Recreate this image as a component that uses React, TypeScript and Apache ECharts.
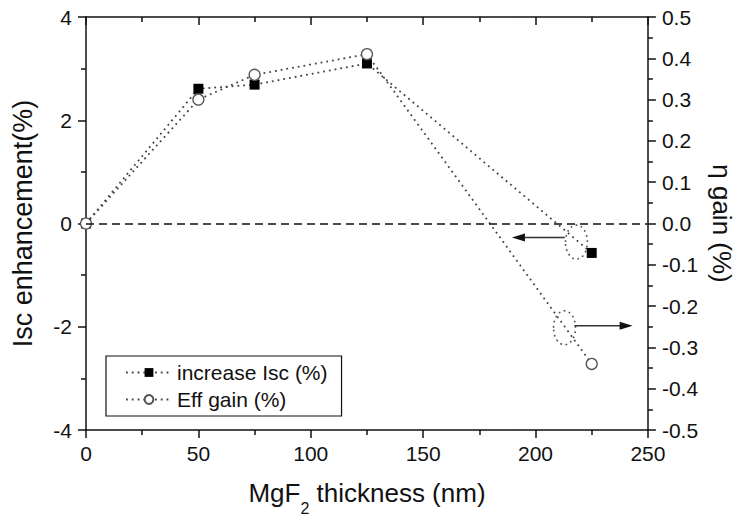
import { useEffect, useRef } from 'react';
import * as echarts from 'echarts';

// MgF2 layer thickness (nm) and measured gains
const thickness = [0, 50, 75, 125, 225];
const iscIncrease = [0, 2.61, 2.69, 3.1, -0.57]; // left axis, %
const effGain = [0, 0.3, 0.36, 0.41, -0.34]; // right axis, %

const xRange = { min: 0, max: 250, interval: 50 };
const leftRange = { min: -4, max: 4, interval: 2 };
const rightRange = { min: -0.5, max: 0.5, interval: 0.1 };

const seriesNames = ['increase Isc (%)', 'Eff gain (%)'];

// Callouts: dotted ellipse around a segment with an arrow pointing to its axis (left-axis units)
const callouts = [
  { center: [218.2, -0.36], from: [213, -0.27], to: [189.5, -0.27] },
  { center: [212.9, -2.02], from: [217.3, -1.98], to: [243.2, -1.98] },
];

const FONT = '"Liberation Sans", Arial, Helvetica, sans-serif';
const INK = '#111';
const DOT = '#555';

export default function App() {
  const ref = useRef<HTMLDivElement>(null);

  useEffect(() => {
    document.body.style.margin = '0';
    document.body.style.overflow = 'hidden';
    if (!ref.current) return;
    const chart = echarts.init(ref.current, undefined, { renderer: 'svg' });

    const axisLine = { show: true, onZero: false, lineStyle: { color: INK, width: 1.5 } };
    const tickLabel = { color: INK, fontSize: 21, fontFamily: FONT };
    const ticks = (inside: boolean) => ({
      axisTick: { show: true, inside, length: 8, lineStyle: { color: INK, width: 1.5 } },
      minorTick: { show: true, splitNumber: 2, length: 5, lineStyle: { color: INK, width: 1.5 } },
    });

    chart.setOption({
      animation: false,
      backgroundColor: '#fff',
      grid: { left: 86, right: 87.5, top: 17, bottom: 84.5 },
      legend: {
        orient: 'vertical',
        left: 106,
        top: 356,
        width: 230,
        padding: [6, 14, 6, 19],
        borderColor: INK,
        borderWidth: 1.2,
        itemWidth: 46,
        itemHeight: 11,
        itemGap: 6,
        textStyle: { color: INK, fontSize: 21, fontFamily: FONT, lineHeight: 20 },
        data: seriesNames,
      },
      xAxis: [
        {
          type: 'value',
          position: 'bottom',
          ...xRange,
          name: '{a|MgF}{s|2}{a| thickness (nm)}',
          nameLocation: 'middle',
          nameGap: 40,
          nameTextStyle: {
            rich: {
              a: { fontSize: 26, fontFamily: FONT, color: INK, lineHeight: 46 },
              s: { fontSize: 16, fontFamily: FONT, color: INK, lineHeight: 16, verticalAlign: 'bottom' },
            },
          },
          axisLine,
          ...ticks(false),
          axisLabel: { ...tickLabel, margin: 13 },
          splitLine: { show: false },
        },
        {
          type: 'value',
          position: 'top',
          ...xRange,
          axisLine,
          ...ticks(true),
          axisLabel: { show: false },
          splitLine: { show: false },
        },
      ],
      yAxis: [
        {
          type: 'value',
          position: 'left',
          ...leftRange,
          name: 'Isc enhancement(%)',
          nameLocation: 'middle',
          nameGap: 50,
          nameTextStyle: { fontSize: 27, fontFamily: FONT, color: INK },
          axisLine,
          ...ticks(false),
          axisLabel: { ...tickLabel, margin: 14 },
          splitLine: { show: false },
        },
        {
          type: 'value',
          position: 'right',
          ...rightRange,
          name: 'η gain (%)',
          nameLocation: 'middle',
          nameGap: 57,
          nameRotate: -90,
          nameTextStyle: { fontSize: 26, fontFamily: FONT, color: INK },
          axisLine,
          ...ticks(false),
          axisLabel: { ...tickLabel, margin: 14, formatter: (v: number) => v.toFixed(1) },
          splitLine: { show: false },
        },
      ],
      series: [
        {
          name: seriesNames[0],
          type: 'line',
          xAxisIndex: 0,
          yAxisIndex: 0,
          data: thickness.map((x, i) => [x, iscIncrease[i]]),
          symbol: 'rect',
          symbolSize: 10,
          itemStyle: { color: '#000', borderColor: '#000', borderWidth: 0 },
          lineStyle: { color: '#444', width: 1.8, type: [1.8, 4] },
          z: 3,
          markLine: {
            silent: true,
            symbol: 'none',
            label: { show: false },
            lineStyle: { color: INK, width: 1.6, type: [8, 5] },
            data: [{ yAxis: 0 }],
          },
        },
        {
          name: seriesNames[1],
          type: 'line',
          xAxisIndex: 0,
          yAxisIndex: 1,
          data: thickness.map((x, i) => [x, effGain[i]]),
          symbol: 'circle',
          symbolSize: 11,
          itemStyle: { color: '#fff', borderColor: DOT, borderWidth: 1.3 },
          lineStyle: { color: '#444', width: 1.8, type: [1.8, 4] },
          z: 4,
        },
      ],
    });

    // Callout ellipses and arrows, placed through the axis scales
    const toPx = (p: number[]) =>
      chart.convertToPixel({ xAxisIndex: 0, yAxisIndex: 0 }, p) as number[];
    const elements: any[] = [];
    callouts.forEach((c) => {
      const [cx, cy] = toPx(c.center);
      const [x1, y1] = toPx(c.from);
      const [x2] = toPx(c.to);
      const dir = x2 < x1 ? -1 : 1;
      elements.push({
        type: 'ellipse',
        shape: { cx, cy, rx: 11, ry: 17 },
        style: { fill: 'none', stroke: DOT, lineWidth: 1.6, lineDash: [1.8, 3.5] },
        silent: true,
      });
      elements.push({
        type: 'line',
        shape: { x1, y1, x2: x2 - dir * 10, y2: y1 },
        style: { stroke: '#333', lineWidth: 1.5 },
        silent: true,
      });
      elements.push({
        type: 'polygon',
        shape: {
          points: [
            [x2, y1],
            [x2 - dir * 13, y1 - 4],
            [x2 - dir * 13, y1 + 4],
          ],
        },
        style: { fill: '#111' },
        silent: true,
      });
    });
    chart.setOption({ graphic: elements });

    return () => chart.dispose();
  }, []);

  return <div ref={ref} style={{ width: 743, height: 521, overflow: 'hidden' }} />;
}
